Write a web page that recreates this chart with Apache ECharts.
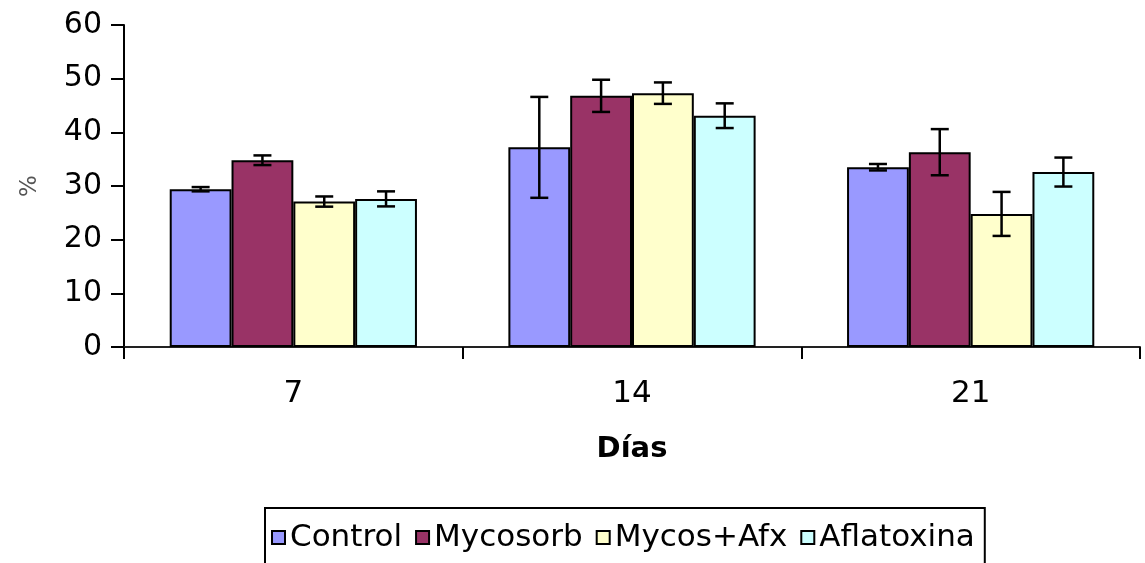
<!DOCTYPE html>
<html>
<head>
<meta charset="utf-8">
<script src="https://cdn.jsdelivr.net/npm/echarts@6/dist/echarts.min.js"></script>
<style>
html,body{margin:0;padding:0;background:#fff;}
#container1{width:1145px;height:563px;}
</style>
</head>
<body>
<div id="container1"></div>
<script>
var dias = ['7', '14', '21'];
var seriesNames = ['Control', 'Mycosorb', 'Mycos+Afx', 'Aflatoxina'];
var control = [29.4, 37.2, 33.5];
var mycosorb = [34.8, 46.8, 36.3];
var mycosAfx = [27.1, 47.3, 24.8];
var aflatoxina = [27.6, 43.1, 32.6];
var controlErr = [0.4, 9.4, 0.6];
var mycosorbErr = [0.9, 3.0, 4.3];
var mycosAfxErr = [0.95, 2.0, 4.1];
var aflatoxinaErr = [1.4, 2.3, 2.7];
var yTicks = [0, 10, 20, 30, 40, 50, 60];

var myChart = echarts.init(document.getElementById('container1'));
const colorList = ['#9999FF', '#993366', '#FFFFCC', '#CCFFFF'];
var font = 'DejaVu Sans';
var catGap = 0.27;

function errorSeries(k, means, errs){
    var d = [];
    for (var m = 0; m < means.length; m++) {
        d.push([m, means[m] - errs[m], means[m] + errs[m]]);
    }
    return {
        type: 'custom',
        name: seriesNames[k] + ' err',
        data: d,
        z: 10,
        renderItem: function (params, api) {
            var bandW = api.size([1, 0])[0];
            var barW = bandW * (1 - catGap) / 4;
            var cx = api.coord([api.value(0), 0])[0] - bandW * (1 - catGap) / 2 + barW * (k + 0.5);
            var lo = api.coord([api.value(0), api.value(1)])[1];
            var hi = api.coord([api.value(0), api.value(2)])[1];
            var hw = 9;
            var st = { stroke: '#000', lineWidth: 2.5 };
            return {
                type: 'group',
                children: [
                    { type: 'line', shape: { x1: cx, y1: lo, x2: cx, y2: hi }, style: st },
                    { type: 'line', shape: { x1: cx - hw, y1: lo, x2: cx + hw, y2: lo }, style: st },
                    { type: 'line', shape: { x1: cx - hw, y1: hi, x2: cx + hw, y2: hi }, style: st }
                ]
            };
        }
    };
}

function barSeries(k, values){
    return {
        name: seriesNames[k],
        type: 'bar',
        data: values,
        barGap: '0%',
        barCategoryGap: (catGap * 100) + '%',
        itemStyle: { color: colorList[k], borderColor: '#000', borderWidth: 2 }
    };
}

var option = {
    animation: false,
    grid: { left: 124, right: 5, top: 25, bottom: 216 },
    legend: {
        data: seriesNames,
        icon: 'rect',
        left: 265,
        top: 508,
        itemWidth: 13,
        itemHeight: 13,
        itemGap: 13,
        padding: [14, 10, 40, 6],
        borderColor: '#000',
        borderWidth: 2,
        textStyle: { fontFamily: font, fontSize: 31, color: '#000' }
    },
    xAxis: {
        type: 'category',
        data: dias,
        name: 'Días',
        nameLocation: 'middle',
        nameGap: 88,
        nameTextStyle: { fontFamily: font, fontSize: 29, fontWeight: 'bold', color: '#000' },
        axisLine: { lineStyle: { color: '#222', width: 2 } },
        axisTick: { show: true, length: 12, lineStyle: { color: '#000', width: 2 } },
        axisLabel: { fontFamily: font, fontSize: 31, color: '#000', margin: 31 }
    },
    yAxis: {
        type: 'value',
        min: yTicks[0],
        max: yTicks[yTicks.length - 1],
        interval: 10,
        name: '%',
        nameLocation: 'middle',
        nameGap: 82,
        nameRotate: 90,
        nameTextStyle: { fontFamily: font, fontSize: 23, color: '#555' },
        splitLine: { show: false },
        axisLine: { show: true, lineStyle: { color: '#000', width: 2 } },
        axisTick: { show: true, length: 13, lineStyle: { color: '#000', width: 2 } },
        axisLabel: { fontFamily: font, fontSize: 30, color: '#000', margin: 22 }
    },
    series: [
        barSeries(0, control),
        barSeries(1, mycosorb),
        barSeries(2, mycosAfx),
        barSeries(3, aflatoxina),
        errorSeries(0, control, controlErr),
        errorSeries(1, mycosorb, mycosorbErr),
        errorSeries(2, mycosAfx, mycosAfxErr),
        errorSeries(3, aflatoxina, aflatoxinaErr)
    ]
};
myChart.setOption(option);
</script>
</body>
</html>
